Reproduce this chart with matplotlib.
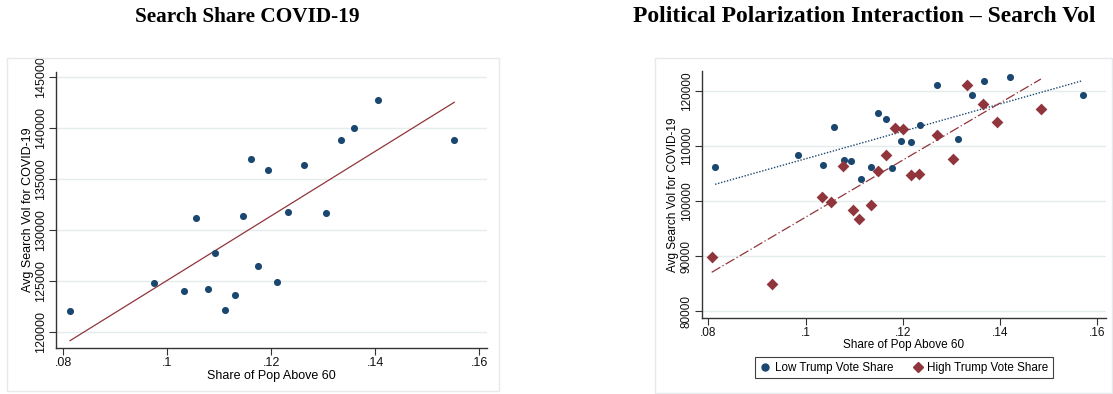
import matplotlib
matplotlib.use("Agg")
import matplotlib.pyplot as plt
from matplotlib.patches import Rectangle
from matplotlib.lines import Line2D

# ---------------- data ----------------
left_x = [0.0813, 0.0974, 0.1032, 0.1056, 0.1078, 0.1092, 0.1111, 0.1131, 0.1146, 0.1162,
          0.1175, 0.1193, 0.1211, 0.1232, 0.1263, 0.1306, 0.1334, 0.1360, 0.1405, 0.1552]
left_y = [122030, 124800, 123990, 131180, 124150, 127690, 122100, 123630, 131340, 136900,
          126440, 135880, 124840, 131770, 136340, 131640, 138800, 140000, 142720, 138770]
left_fit_x = [0.0813, 0.1552]
left_fit_y = [119120, 142490]

low_x = [0.0814, 0.0984, 0.1036, 0.1058, 0.1080, 0.1094, 0.1115, 0.1135, 0.1150, 0.1166,
         0.1177, 0.1196, 0.1216, 0.1235, 0.1271, 0.1314, 0.1342, 0.1366, 0.1421, 0.1571]
low_y = [106170, 108290, 106470, 113360, 107380, 107250, 103930, 106220, 115900, 114930,
         105930, 110880, 110640, 113730, 121030, 111300, 119170, 121700, 122430, 119280]
high_x = [0.0807, 0.0932, 0.1034, 0.1053, 0.1078, 0.1097, 0.1109, 0.1134, 0.1150, 0.1166,
          0.1184, 0.1200, 0.1216, 0.1233, 0.1271, 0.1304, 0.1333, 0.1364, 0.1394, 0.1484]
high_y = [89850, 85010, 100780, 99760, 106400, 98370, 96680, 99330, 105490, 108290,
          113240, 113110, 104770, 104900, 111910, 107620, 121090, 117640, 114270, 116680]
low_fit_x = [0.0814, 0.1569]
low_fit_y = [103030, 121810]
high_fit_x = [0.0807, 0.1484]
high_fit_y = [87070, 122120]

x_ticks = [0.08, 0.10, 0.12, 0.14, 0.16]
x_tick_labels = ['.08', '.1', '.12', '.14', '.16']
left_y_ticks = [120000, 125000, 130000, 135000, 140000, 145000]
right_y_ticks = [80000, 90000, 100000, 110000, 120000]

title_left = "Search Share COVID-19"
title_right = "Political Polarization Interaction \u2013 Search Vol"
xlabel = "Share of Pop Above 60"
ylabel = "Avg Search Vol for COVID-19"
legend_labels = ["Low Trump Vote Share", "High Trump Vote Share"]

# ---------------- style ----------------
NAVY = "#1a476f"
MAROON = "#90353b"
GRID = "#e4ecee"
SPINE = "#333333"
W, H = 1113, 394
plt.rcParams['font.family'] = ['Liberation Sans', 'DejaVu Sans']

fig = plt.figure(figsize=(W / 100, H / 100), dpi=100)


def px_axes(l, r, t, b):
    return fig.add_axes([l / W, 1 - b / H, (r - l) / W, (b - t) / H])


def style(ax, yticks, fs, xpad):
    for s in ['top', 'right']:
        ax.spines[s].set_visible(False)
    for s in ['left', 'bottom']:
        ax.spines[s].set_color(SPINE)
        ax.spines[s].set_linewidth(1.0)
    ax.set_xticks(x_ticks)
    ax.set_xticklabels(x_tick_labels)
    ax.set_yticks(yticks)
    ax.set_yticklabels([str(v) for v in yticks], rotation=90, va='center')
    ax.tick_params(axis='both', direction='out', length=5, width=0.8, color=SPINE,
                   labelsize=fs, labelcolor='#111111', pad=1.5)
    ax.yaxis.grid(True, color=GRID, linewidth=1.0)
    ax.set_axisbelow(True)
    ax.set_xlabel(xlabel, fontsize=fs, labelpad=xpad)
    ax.set_ylabel(ylabel, fontsize=fs, labelpad=1)


# outer light boxes
fig.patches.append(Rectangle((7 / W, 1 - 391 / H), (499 - 7) / W, (391 - 58) / H,
                             transform=fig.transFigure, fill=False,
                             edgecolor='#e6eaea', linewidth=1.0))
fig.patches.append(Rectangle((655 / W, 1 - 393 / H), (1112 - 655) / W, (393 - 58) / H,
                             transform=fig.transFigure, fill=False,
                             edgecolor='#e6eaea', linewidth=1.0))

# ---- left panel ----
ax1 = px_axes(56, 487, 71.7, 348)
ax1.set_xlim(0.0786, 0.1615)
ax1.set_ylim(118400, 145490)
style(ax1, left_y_ticks, 9, 0.5)
ax1.scatter(left_x, left_y, s=26, color=NAVY, zorder=3, linewidths=0)
ax1.plot(left_fit_x, left_fit_y, color=MAROON, linewidth=0.9, zorder=2)

# ---- right panel ----
ax2 = px_axes(701.7, 1106, 70.7, 318.3)
ax2.set_xlim(0.07864, 0.16179)
ax2.set_ylim(78730, 123630)
style(ax2, right_y_ticks, 8.5, 0.0)
ax2.scatter(low_x, low_y, s=26, color=NAVY, marker='o', zorder=3, linewidths=0)
ax2.scatter(high_x, high_y, s=36, color=MAROON, marker='D', zorder=3, linewidths=0)
ax2.plot(low_fit_x, low_fit_y, color=NAVY, linewidth=1.0, linestyle=(0, (1, 1.2)), zorder=2)
ax2.plot(high_fit_x, high_fit_y, color=MAROON, linewidth=0.9,
         linestyle=(0, (8, 2, 1, 2)), zorder=2)

handles = [Line2D([], [], linestyle='none', marker='o', color=NAVY, markersize=5),
           Line2D([], [], linestyle='none', marker='D', color=MAROON, markersize=5)]
leg = fig.legend(handles, legend_labels, loc='center', ncol=2,
                 bbox_to_anchor=(903.9 / W, 1 - 367.8 / H), fontsize=8.4,
                 frameon=True, fancybox=False, edgecolor='#111111',
                 handletextpad=0.3, columnspacing=1.6, handlelength=1.0,
                 borderpad=0.4)
leg.get_frame().set_linewidth(0.8)

# titles
fig.text(247.5 / W, 1 - 17 / H, title_left, ha='center', va='center',
         fontsize=15.3, fontweight='bold', family=['Liberation Serif', 'DejaVu Serif'])
fig.text(863.8 / W, 1 - 17 / H, title_right, ha='center', va='center',
         fontsize=17, fontweight='bold', family=['Liberation Serif', 'DejaVu Serif'])

fig.savefig("out.png", dpi=100)
